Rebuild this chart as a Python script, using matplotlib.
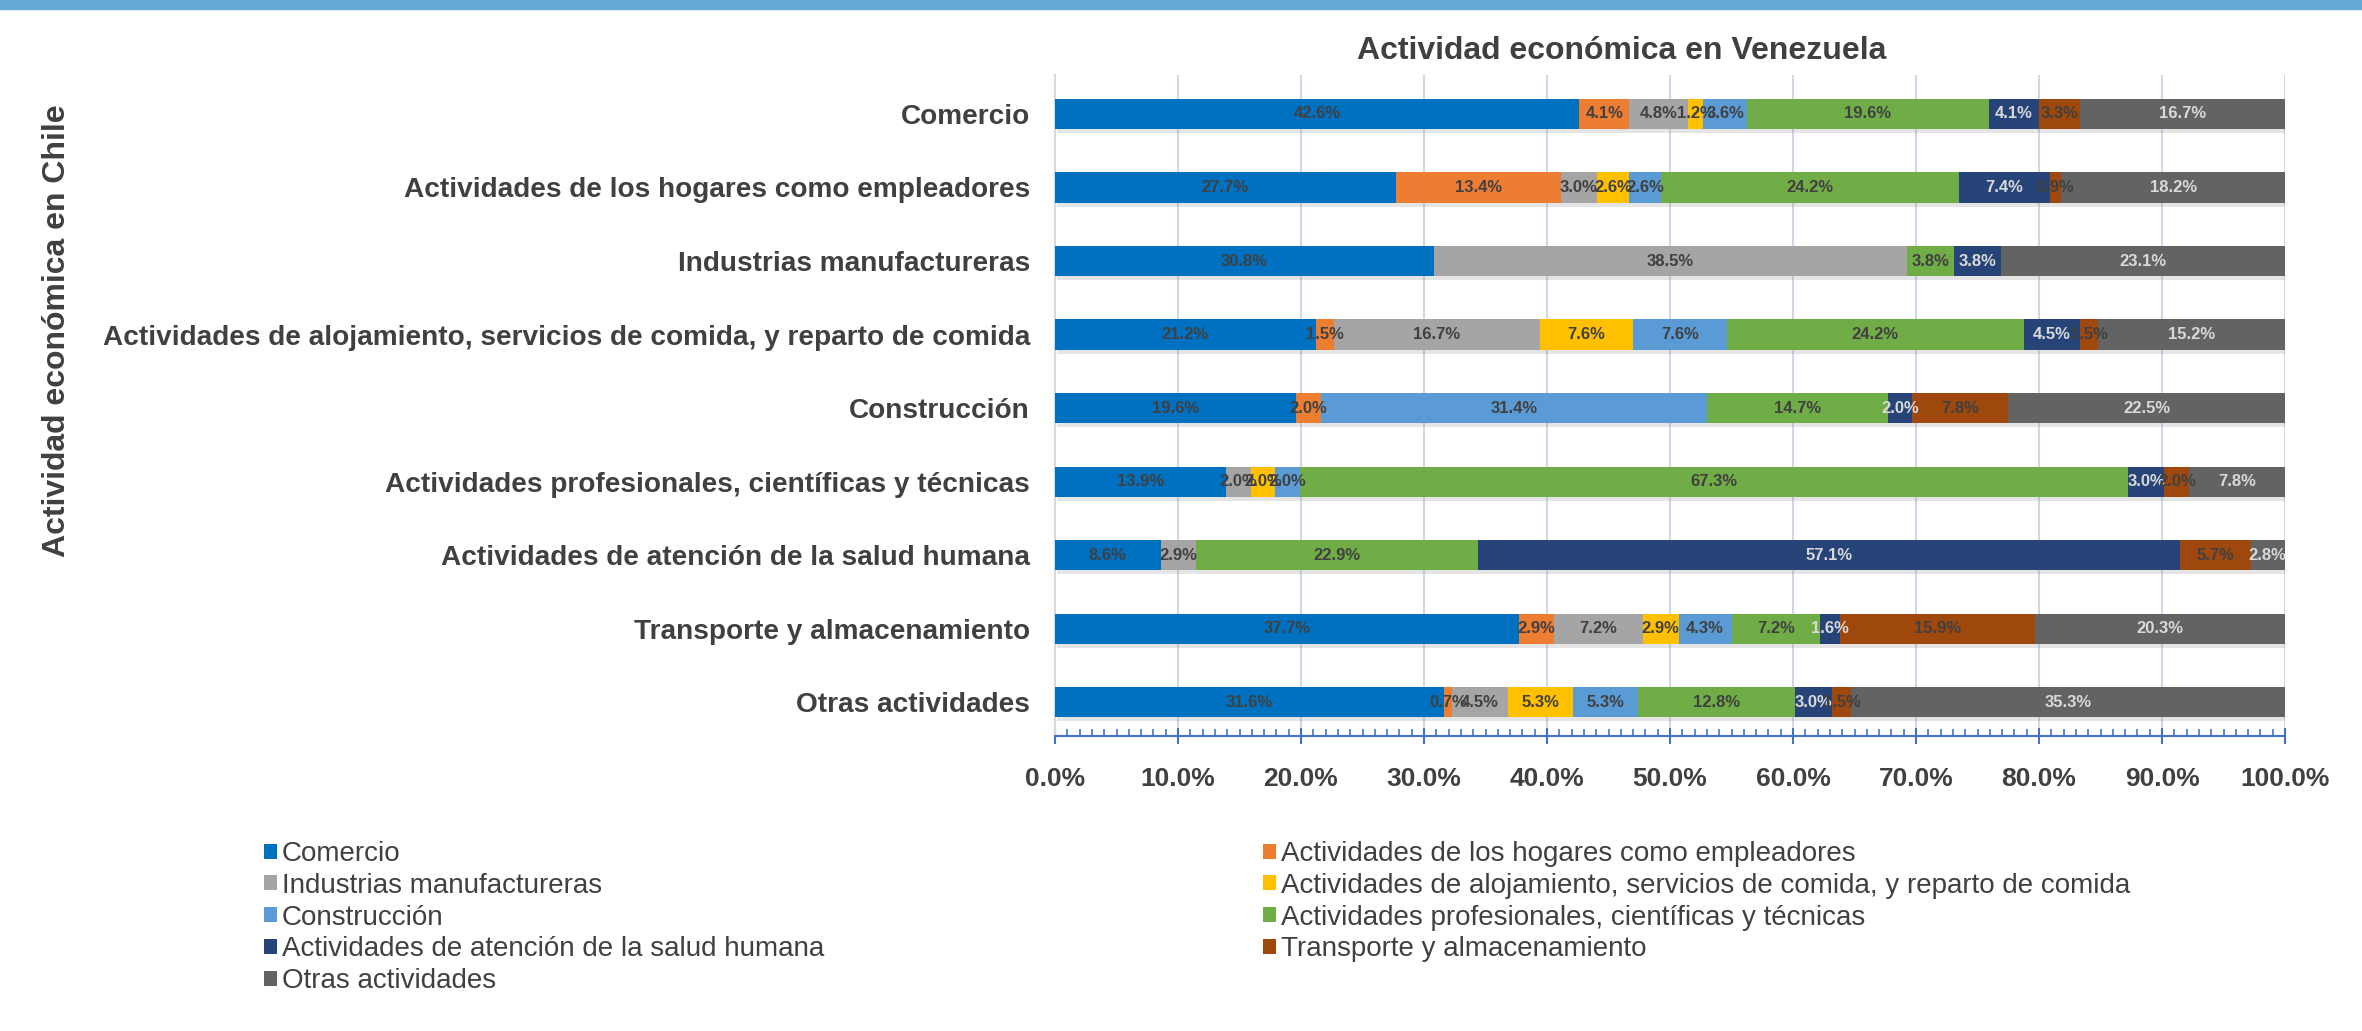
import numpy as np
import matplotlib.pyplot as plt
from matplotlib.patches import Rectangle, Patch
import matplotlib.patheffects as pe

# rows (Chile), top to bottom
rows = ["Comercio",
        "Actividades de los hogares como empleadores",
        "Industrias manufactureras",
        "Actividades de alojamiento, servicios de comida, y reparto de comida",
        "Construcción",
        "Actividades profesionales, científicas y técnicas",
        "Actividades de atención de la salud humana",
        "Transporte y almacenamiento",
        "Otras actividades"]

# series (Venezuela)
series = list(rows)

# one list per series, values per row (percent)
comercio     = [42.6, 27.7, 30.8, 21.2, 19.6, 13.9,  8.6, 37.7, 31.6]
hogares      = [ 4.1, 13.4,  0.0,  1.5,  2.0,  0.0,  0.0,  2.9,  0.7]
industrias   = [ 4.8,  3.0, 38.5, 16.7,  0.0,  2.0,  2.9,  7.2,  4.5]
alojamiento  = [ 1.2,  2.6,  0.0,  7.6,  0.0,  2.0,  0.0,  2.9,  5.3]
construccion = [ 3.6,  2.6,  0.0,  7.6, 31.4,  2.0,  0.0,  4.3,  5.3]
profesional  = [19.6, 24.2,  3.8, 24.2, 14.7, 67.3, 22.9,  7.2, 12.8]
salud        = [ 4.1,  7.4,  3.8,  4.5,  2.0,  3.0, 57.1,  1.6,  3.0]
transporte   = [ 3.3,  0.9,  0.0,  1.5,  7.8,  2.0,  5.7, 15.9,  1.5]
otras        = [16.7, 18.2, 23.1, 15.2, 22.5,  7.8,  2.8, 20.3, 35.3]

values = [comercio, hogares, industrias, alojamiento, construccion,
          profesional, salud, transporte, otras]

colors = ["#0070C0", "#ED7D31", "#A5A5A5", "#FFC000", "#5B9BD5",
          "#70AD47", "#264478", "#9E480E", "#636363"]
label_colors = ["#404040"] * 6 + ["#D9D9D9", "#404040", "#D9D9D9"]

plt.rcParams["font.family"] = ["Liberation Sans", "DejaVu Sans"]

fig = plt.figure(figsize=(23.62, 10.31), dpi=100)
fig.patches.append(Rectangle((0, 1 - 9 / 1031), 1, 9 / 1031, transform=fig.transFigure,
                             color="#65A9D6", zorder=0))

ax = fig.add_axes([1055 / 2362, 1 - 736 / 1031, 1230 / 2362, (736 - 75) / 1031])

y = np.arange(len(rows))
left = np.zeros(len(rows))
shadow = [pe.SimplePatchShadow(offset=(1.5, -3), shadow_rgbFace="#7f7f7f", alpha=0.2), pe.Normal()]
for j, vals in enumerate(values):
    vals = np.array(vals)
    b = ax.barh(y, vals, left=left, height=0.41, color=colors[j], zorder=3)
    for p in b:
        p.set_path_effects(shadow)
    for i, v in enumerate(vals):
        if v > 0:
            ax.text(left[i] + v / 2, y[i], f"{v:.1f}%", ha="center", va="center",
                    fontsize=12, fontweight="bold", color=label_colors[j], zorder=5)
    left += vals

ax.set_xlim(0, 100)
ax.set_ylim(len(rows) - 1 + 0.46, -0.53)
ax.set_yticks(y)
ax.set_yticklabels(rows, fontsize=20.2, fontweight="bold", color="#404040")
ax.tick_params(axis="y", length=0, pad=18)

ax.set_xticks(np.arange(0, 101, 10))
ax.set_xticklabels([f"{t:.1f}%" for t in np.arange(0, 101, 10)], fontsize=19,
                   fontweight="bold", color="#404040")
ax.set_xticks(np.arange(0, 101, 1), minor=True)
ax.tick_params(axis="x", which="major", direction="inout", length=12, width=1.5,
               color="#4472C4", pad=16)
ax.tick_params(axis="x", which="minor", direction="in", length=5, width=1.2, color="#4472C4")

ax.grid(axis="x", color="#D0D8E8", linewidth=1.5, zorder=0)
ax.set_axisbelow(True)
for s in ["top", "right"]:
    ax.spines[s].set_visible(False)
ax.spines["left"].set_color("#D9D9D9")
ax.spines["left"].set_linewidth(1.5)
ax.spines["bottom"].set_color("#4472C4")
ax.spines["bottom"].set_linewidth(1.5)

fig.text(1622 / 2362, 1 - 51 / 1031, "Actividad económica en Venezuela", ha="center", va="center",
         fontsize=23, fontweight="bold", color="#404040")
fig.text(57 / 2362, 1 - 331 / 1031, "Actividad económica en Chile", ha="center", va="center",
         rotation=90, fontsize=23, fontweight="bold", color="#404040")

# legend laid out in two columns, row by row
handles = [Patch(facecolor=c) for c in colors]
left_idx = [0, 2, 4, 6, 8]
right_idx = [1, 3, 5, 7]
for idx, x0 in [(left_idx, 264 / 2362), (right_idx, 1263 / 2362)]:
    fig.legend([handles[i] for i in idx], [series[i] for i in idx],
               loc="upper left", bbox_to_anchor=(x0, 1 - 841 / 1031), frameon=False,
               prop={"size": 20}, labelcolor="#404040",
               handlelength=0.45, handleheight=0.45, handletextpad=0.2,
               labelspacing=0.21, borderaxespad=0, borderpad=0)

fig.savefig("out.png", dpi=100)
